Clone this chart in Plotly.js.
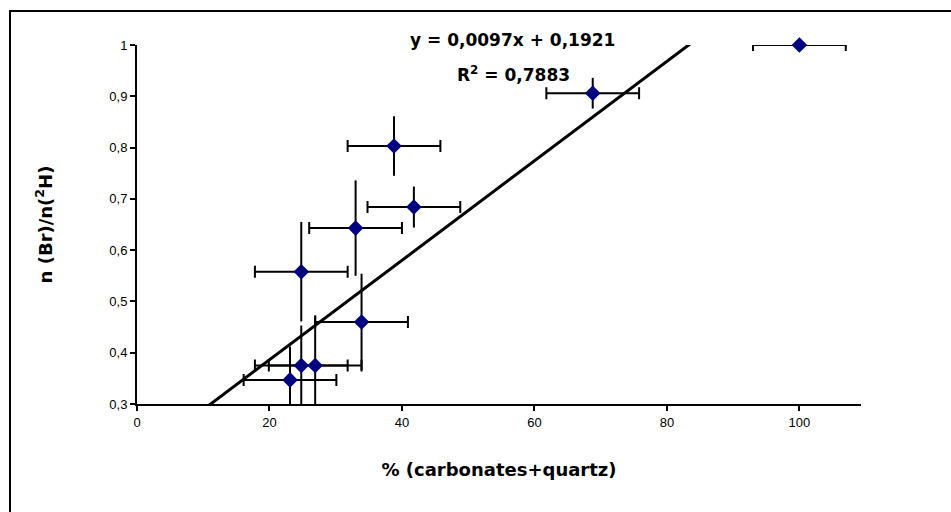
<!DOCTYPE html>
<html>
<head>
<meta charset="utf-8">
<script src="https://cdn.plot.ly/plotly-3.0.1.min.js"></script>
<style>
html,body{margin:0;padding:0;background:#fff;}
#chart{width:951px;height:512px;}
</style>
</head>
<body>
<div id="chart"></div>
<script>
// Data
var carbQuartz = [100, 68.8, 38.8, 41.8, 33.0, 24.8, 33.9, 24.8, 26.9, 23.1];
var ratioBrH   = [1.0, 0.906, 0.803, 0.684, 0.643, 0.558, 0.460, 0.375, 0.375, 0.347];
var xErr       = [7, 7, 7, 7, 7, 7, 7, 7, 7, 7];
var yErr       = [0, 0.03, 0.058, 0.04, 0.093, 0.097, 0.094, 0.078, 0.098, 0.065];
var slope = 0.0097, intercept = 0.1921, r2 = "0,7883";
var xTicks = [0, 20, 40, 60, 80, 100];
var yTicks = [0.3, 0.4, 0.5, 0.6, 0.7, 0.8, 0.9, 1];

var xLine = [0, 110];
var yLine = xLine.map(function(v){ return slope * v + intercept; });

var traces = [
  {
    x: xLine, y: yLine, type: 'scatter', mode: 'lines',
    line: {color: '#000000', width: 3}, hoverinfo: 'skip', showlegend: false
  },
  {
    x: carbQuartz, y: ratioBrH, type: 'scatter', mode: 'markers',
    cliponaxis: false,
    marker: {symbol: 'diamond', size: 12, color: '#000080', line: {color: '#000080', width: 0}},
    error_x: {type: 'data', array: xErr, visible: true, color: '#000000', thickness: 2, width: 6},
    error_y: {type: 'data', array: yErr, visible: true, color: '#000000', thickness: 2, width: 0},
    showlegend: false
  }
];

var titleFont = {family: 'DejaVu Sans, sans-serif', size: 18, weight: 'bold', color: '#000000'};
var eqFont = {family: 'DejaVu Sans, sans-serif', size: 17, weight: 'bold', color: '#000000'};
var tickFont = {family: 'Liberation Sans, Arial, sans-serif', size: 13, color: '#000000'};

var layout = {
  width: 951, height: 512,
  margin: {l: 137, r: 90, t: 45, b: 108},
  paper_bgcolor: '#ffffff', plot_bgcolor: '#ffffff',
  separators: ', ',
  showlegend: false,
  font: {family: 'Liberation Sans, Arial, sans-serif', size: 13, color: '#000000'},
  xaxis: {
    range: [0, 109.3], tickvals: xTicks, ticktext: xTicks.map(String),
    showgrid: false, zeroline: false, showline: true, linecolor: '#000000', linewidth: 2,
    ticks: 'outside', ticklen: 5, tickwidth: 2, tickcolor: '#000000',
    tickfont: tickFont,
    title: {text: '% (carbonates+quartz)', standoff: 35, font: titleFont}
  },
  yaxis: {
    range: [0.3, 1.0], tickvals: yTicks, ticktext: yTicks.map(function(v){ return String(v).replace('.', ','); }),
    showgrid: false, zeroline: false, showline: true, linecolor: '#000000', linewidth: 2,
    ticks: 'outside', ticklen: 5, tickwidth: 2, tickcolor: '#000000',
    tickfont: tickFont,
    title: {text: 'n (Br)/n(<sup>2</sup>H)', standoff: 52, font: titleFont}
  },
  annotations: [
    {xref: 'paper', yref: 'paper', x: (512 - 137) / (861 - 137), y: (404 - 40) / (404 - 45),
     xanchor: 'center', yanchor: 'middle', showarrow: false,
     text: 'y = 0,0097x + 0,1921', font: eqFont},
    {xref: 'paper', yref: 'paper', x: (513 - 137) / (861 - 137), y: (404 - 74) / (404 - 45),
     xanchor: 'center', yanchor: 'middle', showarrow: false,
     text: 'R<sup>2</sup> = ' + r2, font: eqFont}
  ],
  shapes: [
    {type: 'rect', xref: 'paper', yref: 'paper',
     x0: (10 - 137) / (861 - 137), x1: (960 - 137) / (861 - 137),
     y0: (404 - 520) / (404 - 45), y1: (404 - 11) / (404 - 45),
     line: {color: '#000000', width: 2}, fillcolor: 'rgba(0,0,0,0)', layer: 'below'}
  ]
};

Plotly.newPlot('chart', traces, layout, {displayModeBar: false, staticPlot: true});
</script>
</body>
</html>
